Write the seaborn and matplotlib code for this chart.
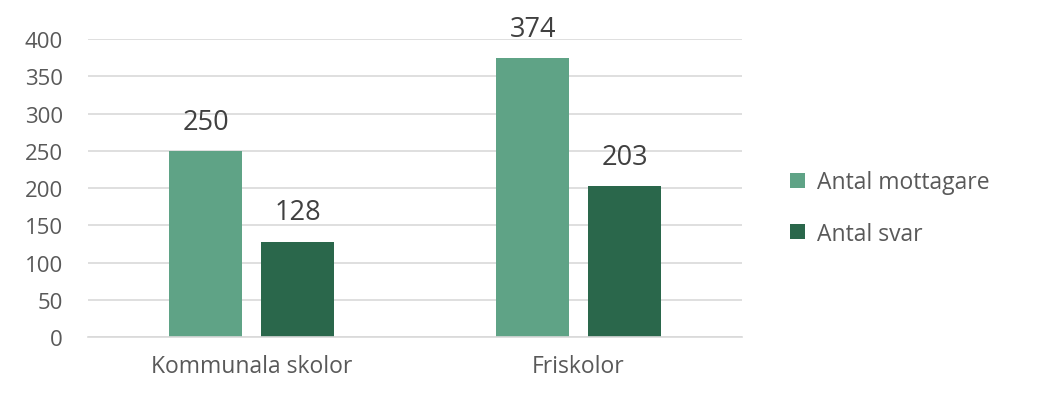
import matplotlib
matplotlib.use("Agg")
import matplotlib.pyplot as plt
import seaborn as sns
import pandas as pd

categories = ["Kommunala skolor", "Friskolor"]
series = ["Antal mottagare", "Antal svar"]
mottagare = [250, 374]
svar = [128, 203]
yticks = [0, 50, 100, 150, 200, 250, 300, 350, 400]
colors = ["#5fa386", "#2a674b"]

df = pd.DataFrame({
    "cat": categories * 2,
    "serie": [series[0]] * 2 + [series[1]] * 2,
    "val": mottagare + svar,
})

sns.set_style("white")
plt.rcParams["font.family"] = ["Open Sans", "DejaVu Sans"]

fig = plt.figure(figsize=(10.4, 4.02), dpi=100)
ax = fig.add_axes([0.0846, 0.159, 0.629, 0.7415])
sns.barplot(data=df, x="cat", y="val", hue="serie", palette=colors,
            width=0.562, gap=0.207, ax=ax, legend=True, saturation=1,
            linewidth=0)

ax.set_ylim(0, 400)
ax.set_xlim(-0.5, 1.5)
ax.set_yticks(yticks)
ax.yaxis.grid(True, color="#d9d9d9", linewidth=1.2)
ax.set_axisbelow(True)
for s in ["left", "right", "top"]:
    ax.spines[s].set_visible(False)
ax.spines["bottom"].set_color("#d9d9d9")
ax.spines["bottom"].set_linewidth(1.2)
ax.tick_params(axis="y", length=0, labelsize=16, colors="#595959", pad=18)
ax.tick_params(axis="x", length=0, labelsize=16.5, colors="#595959", pad=12)
ax.set_xlabel("")
ax.set_ylabel("")

for cont in ax.containers:
    ax.bar_label(cont, fmt="%d", padding=11, fontsize=19.5, color="#404040")

handles, labels = ax.get_legend_handles_labels()
ax.get_legend().remove()
fig.legend(handles, labels, loc="center left", bbox_to_anchor=(0.74, 0.48),
           frameon=False, fontsize=16.5, handlelength=0.65, handleheight=0.65,
           handletextpad=0.5, labelspacing=1.2, labelcolor="#595959")

fig.savefig("out.png", dpi=100)
